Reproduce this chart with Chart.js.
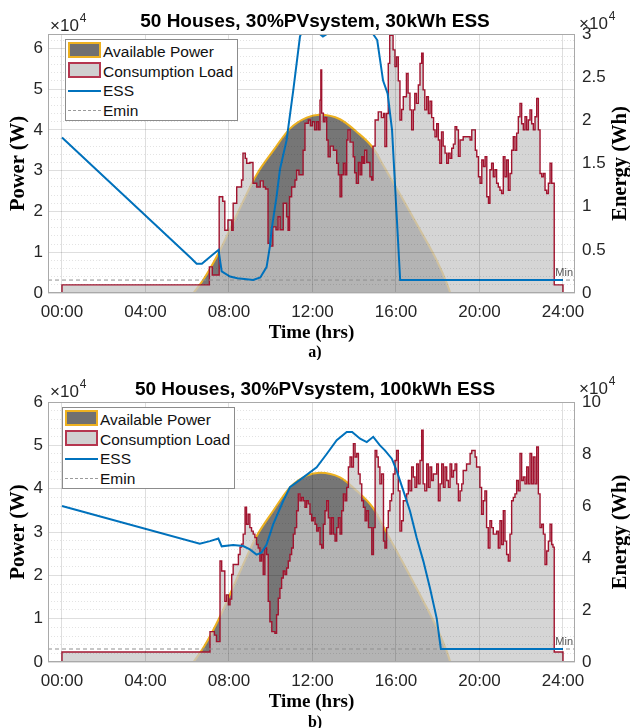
<!DOCTYPE html>
<html>
<head>
<meta charset="utf-8">
<script src="https://cdn.jsdelivr.net/npm/chart.js@4.4.1/dist/chart.umd.min.js"></script>
<style>
html,body{margin:0;padding:0;background:#fff;width:630px;height:728px;overflow:hidden;}
.panel{position:absolute;left:0;width:630px;}
#p1{top:0;height:360px;}
#p2{top:360px;height:376px;}
.legend{position:absolute;background:#fff;border:1px solid #8c8c8c;box-sizing:border-box;
  font-family:"Liberation Sans",Arial,sans-serif;font-size:15.5px;color:#111;}
.row{position:absolute;left:0;width:100%;height:20px;line-height:20px;white-space:nowrap;}
.row span{position:absolute;left:37px;top:0;}
.sw{position:absolute;left:2px;width:33px;box-sizing:border-box;}
</style>
</head>
<body>
<div class="panel" id="p1"><canvas id="c1" width="630" height="360"></canvas></div>
<div class="panel" id="p2"><canvas id="c2" width="630" height="376"></canvas></div>
<script>
// legend / axis texts
var seriesNames = ['Available Power', 'Consumption Load', 'ESS', 'Emin'];
var titles = ['50 Houses, 30%PVsystem, 30kWh ESS', '50 Houses, 30%PVsystem, 100kWh ESS'];
var panelTags = ['a)', 'b)'];

// ticks (hours, x10^4)
var xTicks = [0, 4, 8, 12, 16, 20, 24];
var powerTicks = [0, 1, 2, 3, 4, 5, 6];
var energyTicksA = [0, 0.5, 1, 1.5, 2, 2.5, 3];
var energyTicksB = [0, 2, 4, 6, 8, 10];

// available PV power, same for both cases (x10^4 W)
var pvHours = [6.3, 6.8, 7.57, 8.4, 9.32, 10.12, 10.92, 11.72, 12.36, 13.32, 14.12, 14.91, 15.4, 16.35, 17.15, 17.95, 18.43, 18.6];
var pvPower = [0, 0.35, 1.05, 1.95, 2.9, 3.49, 4.03, 4.3, 4.37, 4.26, 3.95, 3.55, 3.12, 2.28, 1.55, 0.8, 0.25, 0];

// case a) 30 kWh ESS
var loadHoursA = [0,0,7.06,7.20,7.53,7.70,7.80,7.95,8.13,8.20,
  8.37,8.60,8.67,8.78,8.85,9.00,9.15,9.33,9.50,9.64,
  9.75,9.87,9.95,10.10,10.25,10.35,10.45,10.60,10.76,10.83,
  10.90,11.00,11.16,11.24,11.35,11.55,11.64,11.80,11.90,12.00,
  12.10,12.20,12.28,12.36,12.40,12.44,12.52,12.60,12.68,12.75,
  12.85,13.00,13.16,13.24,13.32,13.40,13.48,13.56,13.64,13.70,
  13.80,13.95,14.02,14.10,14.20,14.28,14.36,14.43,14.50,14.60,
  14.75,14.83,14.90,15.00,15.15,15.30,15.40,15.47,15.55,15.63,
  15.70,15.86,15.95,16.03,16.11,16.19,16.27,16.35,16.50,16.58,
  16.67,16.75,16.83,16.90,16.98,17.07,17.15,17.23,17.30,17.38,
  17.47,17.55,17.63,17.71,17.80,17.87,17.95,18.03,18.10,18.18,
  18.26,18.35,18.43,18.51,18.59,18.67,18.75,18.83,18.91,18.99,
  19.07,19.22,19.38,19.55,19.63,19.71,19.80,19.87,19.95,20.03,
  20.11,20.19,20.27,20.35,20.43,20.50,20.58,20.66,20.74,20.82,
  20.90,20.98,21.06,21.14,21.22,21.30,21.38,21.46,21.54,21.62,
  21.70,21.78,21.86,21.94,22.02,22.10,22.18,22.26,22.34,22.42,
  22.50,22.58,22.66,22.74,22.82,22.90,22.98,23.06,23.14,23.22,
  23.30,23.38,23.46,23.52,23.58,24.00];
var loadPowerA = [0,0.20,0.64,0.44,2.36,2.25,1.54,1.79,1.54,2.20,
  2.60,2.77,3.43,3.30,3.18,3.20,2.69,2.60,2.75,2.60,
  2.55,1.22,1.15,1.62,1.55,1.87,1.55,2.20,1.87,1.54,
  2.36,2.60,2.77,3.01,2.90,3.50,4.16,4.24,4.10,4.20,
  4.00,4.20,4.00,4.73,5.47,4.41,4.20,4.30,3.75,3.34,
  3.60,3.50,3.18,2.90,2.36,2.90,3.18,2.90,3.75,4.00,
  3.70,3.34,2.95,2.69,3.20,2.90,3.34,3.18,3.50,3.20,
  2.85,2.77,3.60,4.24,4.44,4.30,4.40,3.59,4.40,5.63,
  6.32,5.96,5.55,5.79,5.20,4.24,4.50,4.81,5.38,4.90,
  4.49,4.00,4.49,4.89,4.65,5.10,5.63,5.88,4.98,4.49,
  4.81,4.40,4.70,4.30,4.00,3.83,4.15,3.75,3.18,3.95,
  3.60,3.43,3.18,3.43,3.30,3.55,3.65,4.08,4.00,3.35,
  3.75,3.83,3.83,3.75,4.00,4.00,3.50,3.34,2.85,2.69,
  3.26,3.10,3.34,2.36,2.20,3.02,3.18,2.85,3.02,2.69,
  2.60,2.52,2.44,3.34,2.85,3.26,2.52,2.93,3.50,3.83,
  3.50,3.92,4.32,4.65,4.15,4.00,4.32,4.00,4.24,4.49,
  4.15,4.00,4.32,4.77,4.00,2.93,2.85,2.93,2.52,2.44,
  2.69,3.18,2.69,2.69,0.20,0];
var essHoursA = [0,6.2,6.45,6.7,7.1,7.5,7.65,8.05,8.4,9.16,
  9.5,9.8,9.96,10.04,10.28,10.44,10.76,11.08,11.24,11.4,
  11.45,12.35,12.5,12.7,14.9,15.1,15.38,15.6,15.81,16.2,24];
var essEnergyA = [1.80,0.40,0.34,0.34,0.42,0.50,0.25,0.19,0.17,0.15,
  0.18,0.30,0.54,0.73,1.12,1.43,1.77,2.35,2.66,2.97,
  3.0,3.0,2.97,3.0,3.0,2.93,2.46,2.31,1.89,0.15,0.15];
var eminA = 0.15;

// case b) 100 kWh ESS
var loadHoursB = [0,0,7.09,7.30,7.40,7.57,7.65,7.80,7.88,7.97,
  8.05,8.13,8.20,8.37,8.45,8.53,8.60,8.68,8.77,8.84,
  8.92,9.00,9.08,9.16,9.24,9.32,9.40,9.48,9.56,9.64,
  9.72,9.80,9.88,9.96,10.05,10.20,10.28,10.36,10.44,10.52,
  10.60,10.68,10.76,10.84,10.92,11.00,11.08,11.16,11.24,11.32,
  11.40,11.48,11.56,11.64,11.72,11.80,11.88,11.96,12.04,12.12,
  12.20,12.28,12.36,12.44,12.52,12.60,12.68,12.76,12.84,12.92,
  13.00,13.08,13.16,13.24,13.32,13.40,13.48,13.56,13.64,13.72,
  13.80,13.88,13.96,14.04,14.12,14.20,14.28,14.36,14.44,14.52,
  14.60,14.68,14.76,14.84,14.92,15.00,15.08,15.15,15.23,15.31,
  15.40,15.47,15.55,15.63,15.71,15.79,15.87,15.95,16.03,16.11,
  16.19,16.27,16.35,16.51,16.59,16.67,16.75,16.83,16.91,16.99,
  17.07,17.15,17.23,17.30,17.38,17.47,17.55,17.63,17.71,17.79,
  17.95,18.03,18.11,18.19,18.27,18.35,18.43,18.51,18.59,18.67,
  18.75,18.83,18.91,18.99,19.07,19.15,19.22,19.38,19.55,19.63,
  19.71,19.79,19.86,19.94,20.02,20.10,20.18,20.26,20.34,20.42,
  20.50,20.58,20.66,20.74,20.82,20.90,20.98,21.06,21.14,21.22,
  21.30,21.38,21.46,21.54,21.62,21.70,21.78,21.86,21.94,22.02,
  22.10,22.18,22.26,22.34,22.42,22.50,22.58,22.66,22.74,22.82,
  22.90,22.98,23.06,23.14,23.22,23.30,23.38,23.46,23.52,23.58,24.00];
var loadPowerB = [0,0.23,0.70,0.62,0.47,2.33,2.10,1.40,1.55,1.32,
  1.45,2.02,2.25,2.25,2.48,2.65,2.72,2.95,3.57,3.18,
  3.41,3.10,3.02,2.95,2.87,2.71,2.63,2.33,2.48,2.02,
  2.63,2.48,1.40,0.93,0.70,0.66,1.09,1.47,1.70,1.94,
  2.10,2.02,2.17,2.33,2.48,2.63,2.95,3.10,3.49,3.88,
  3.72,3.80,3.72,3.57,3.72,3.65,3.41,3.26,3.33,3.18,
  3.02,3.10,2.71,2.63,3.18,3.49,3.72,3.33,2.95,3.33,
  2.95,2.79,3.10,3.33,2.95,3.49,3.88,3.72,4.03,4.50,
  4.73,4.50,5.04,4.73,4.81,4.34,4.11,3.72,3.57,3.26,
  3.49,3.10,3.10,2.48,3.10,4.88,4.73,4.50,4.11,4.34,
  2.79,2.63,3.10,3.49,3.72,3.88,4.34,4.65,4.88,3.95,
  3.02,3.26,3.72,3.88,4.19,3.95,4.50,4.27,4.03,4.57,
  4.11,4.65,5.35,4.11,3.95,4.57,4.03,4.50,4.19,4.34,
  4.57,3.72,4.11,4.57,4.03,4.50,4.19,4.03,4.57,4.27,
  4.42,4.57,4.11,3.72,3.95,4.11,4.42,4.57,4.81,4.88,
  4.88,4.73,4.50,4.50,4.03,3.41,3.72,3.95,3.10,2.63,
  3.26,3.10,2.95,2.95,3.02,2.63,3.26,2.71,3.49,2.79,
  2.48,2.33,2.95,3.72,3.80,3.88,4.19,3.95,4.81,4.19,
  4.27,4.11,4.50,4.11,4.81,4.11,4.73,4.11,4.96,3.88,
  3.10,3.18,2.95,2.25,2.56,2.79,3.18,2.71,2.65,0.23,0];
var essHoursB = [0,6.6,7.09,7.49,7.65,8.2,8.68,9.0,9.32,9.55,
  9.8,10.12,10.6,10.92,11.56,12.2,12.68,13.16,13.64,13.9,
  14.28,14.6,14.91,15.23,15.47,15.8,16.03,16.35,16.67,16.99,
  17.31,17.63,17.95,18.15,24];
var essEnergyB = [6.0,4.55,4.65,4.75,4.45,4.5,4.46,4.33,4.13,4.2,
  4.52,5.3,6.2,6.72,7.1,7.49,8.0,8.53,8.85,8.85,
  8.59,8.46,8.66,8.33,8.14,7.82,7.36,6.59,5.81,4.78,
  3.88,2.84,1.68,0.5,0.5];
var eminB = 0.5;

var X_MIN = -0.67, X_MAX = 24.575;
var SANS = '"Liberation Sans", Arial, sans-serif';
var SERIF = '"Liberation Serif", "Times New Roman", serif';
var INK = '#262626';

function pts(xs, ys) {
  return xs.map(function (x, i) { return {x: x, y: ys[i]}; });
}
function setTicks(list) {
  return function (s) { s.ticks = list.map(function (v) { return {value: v}; }); };
}

// frame, x10^4 exponents, right-hand title, "Min" tag
var decor = {
  id: 'decor',
  afterDraw: function (chart, args, o) {
    var ctx = chart.ctx, a = chart.chartArea;
    ctx.save();
    ctx.strokeStyle = '#a9a9a9';
    ctx.lineWidth = 1;
    ctx.strokeRect(a.left + 0.5, a.top + 0.5, a.right - a.left - 1, a.bottom - a.top - 1);

    ctx.fillStyle = INK;
    ctx.textBaseline = 'middle';
    ctx.textAlign = 'left';
    [[a.left + 2, a.top - o.expL], [a.right + 4, a.top - o.expR]].forEach(function (p) {
      ctx.font = '17px ' + SANS;
      ctx.fillText('\u00d710', p[0], p[1]);
      var w = ctx.measureText('\u00d710').width;
      ctx.font = '12px ' + SANS;
      ctx.fillText('4', p[0] + w + 1, p[1] - 7);
    });

    ctx.save();
    ctx.translate(621, (a.top + a.bottom) / 2);
    ctx.rotate(-Math.PI / 2);
    ctx.textAlign = 'center';
    ctx.fillStyle = '#000';
    ctx.font = 'bold 20.5px ' + SERIF;
    ctx.fillText('Energy (Wh)', 0, 0);
    ctx.restore();

    var yMin = chart.scales.y2.getPixelForValue(o.emin);
    ctx.font = '11px ' + SANS;
    ctx.fillStyle = '#555';
    ctx.textAlign = 'right';
    ctx.textBaseline = 'bottom';
    ctx.fillText('Min', a.right - 2, yMin - 2);
    ctx.restore();
  }
};

function makeChart(id, c) {
  return new Chart(document.getElementById(id), {
    type: 'line',
    data: {
      datasets: [
        {label: seriesNames[2], data: pts(c.essH, c.essE), yAxisID: 'y2', borderColor: '#0072BD',
          borderWidth: 2, pointRadius: 0, tension: 0, order: 0},
        {label: seriesNames[3], data: pts([X_MIN, X_MAX], [c.emin, c.emin]), yAxisID: 'y2',
          borderColor: '#8f8f8f', borderWidth: 1, borderDash: [4, 3], pointRadius: 0, order: 1},
        {label: seriesNames[1], data: pts(c.loadH, c.loadP), yAxisID: 'y', stepped: true,
          fill: 'origin', backgroundColor: 'rgba(200,200,200,0.76)', borderColor: '#A2142F',
          borderWidth: 1.4, pointRadius: 0, order: 2},
        {label: seriesNames[0], data: pts(pvHours, pvPower), yAxisID: 'y', fill: 'origin',
          backgroundColor: 'rgb(118,118,118)', borderColor: '#EDB120', borderWidth: 2,
          cubicInterpolationMode: 'monotone', pointRadius: 0, order: 3}
      ]
    },
    options: {
      responsive: false,
      animation: false,
      events: [],
      layout: {padding: 0},
      scales: {
        x: {
          type: 'linear', min: X_MIN, max: X_MAX,
          afterBuildTicks: setTicks(xTicks),
          afterFit: function (s) { s.height = c.xH; },
          ticks: {autoSkip: false, maxRotation: 0, padding: 9, color: INK,
            font: {family: SANS, size: 17},
            callback: function (v) { return (v < 10 ? '0' : '') + v + ':00'; }},
          grid: {color: 'rgba(0,0,0,0.13)', drawTicks: false, z: 1},
          border: {display: false},
          title: {display: true, text: 'Time (hrs)', color: '#000',
            font: {family: SERIF, size: 19, weight: 'bold', lineHeight: 1.1},
            padding: {top: 0, bottom: c.xTitlePad}}
        },
        y: {
          position: 'left', min: 0, max: c.leftMax,
          afterBuildTicks: setTicks(powerTicks),
          afterFit: function (s) { s.width = 48; },
          ticks: {padding: 5, color: INK, font: {family: SANS, size: 17}},
          grid: {color: 'rgba(0,0,0,0.13)', drawTicks: false, z: 1},
          border: {display: false},
          title: {display: true, text: 'Power (W)', color: '#000',
            font: {family: SERIF, size: 20.5, weight: 'bold', lineHeight: 1.1},
            padding: {top: 7, bottom: 0}}
        },
        yMinor: {
          position: 'left', min: 0, max: c.leftMax,
          afterBuildTicks: function (s) {
            var t = [];
            for (var k = 1; k * 0.2 < c.leftMax; k++) if (k % 5) t.push({value: k * 0.2});
            s.ticks = t;
          },
          afterFit: function (s) { s.width = 0; },
          ticks: {display: false},
          grid: {color: 'rgba(0,0,0,0.11)', drawTicks: false, z: 1},
          border: {display: false, dash: [1, 2]}
        },
        y2: {
          position: 'right', min: 0, max: c.rightMax,
          afterBuildTicks: setTicks(c.rightTicks),
          afterFit: function (s) { s.width = 55; },
          ticks: {padding: 7, color: INK, font: {family: SANS, size: 17},
            callback: function (v) { return String(v); }},
          grid: {drawOnChartArea: false, drawTicks: false},
          border: {display: false}
        }
      },
      plugins: {
        legend: {display: false},
        tooltip: {enabled: false},
        title: {display: true, text: c.title, color: '#000',
          font: {family: SANS, size: 19, weight: 'bold', lineHeight: 1.2},
          padding: {top: c.titleTop, bottom: c.titleBottom}},
        subtitle: {display: true, position: 'bottom', text: c.tag, color: '#000',
          font: {family: SERIF, size: 16, weight: 'bold', lineHeight: 0.875},
          padding: {top: 0, bottom: c.tagPad}},
        decor: {expL: c.expL, expR: c.expR, emin: c.emin}
      }
    },
    plugins: [decor]
  });
}

function makeLegend(panelId, left, top) {
  var swatches = [
    'top:0;height:16px;background:#707070;border:2px solid #EDB120;',
    'top:0;height:16px;background:#d0d0d0;border:2px solid #B5364F;',
    'top:9px;height:0;border-top:2px solid #0072BD;',
    'top:9px;height:0;border-top:1px dashed #9a9a9a;'
  ];
  var box = document.createElement('div');
  box.className = 'legend';
  box.style.cssText = 'left:' + left + 'px;top:' + top + 'px;width:173px;height:82px;';
  seriesNames.forEach(function (name, i) {
    var r = document.createElement('div');
    r.className = 'row';
    r.style.top = (2 + i * 19.7) + 'px';
    r.innerHTML = '<div class="sw" style="' + swatches[i] + '"></div><span>' + name + '</span>';
    box.appendChild(r);
  });
  document.getElementById(panelId).appendChild(box);
}

makeChart('c1', {title: titles[0], tag: panelTags[0], loadH: loadHoursA, loadP: loadPowerA,
  essH: essHoursA, essE: essEnergyA, emin: eminA, leftMax: 6.35, rightMax: 3,
  rightTicks: energyTicksA, titleTop: 10.6, titleBottom: 0.6, xH: 53, xTitlePad: 2.5,
  tagPad: 0, expL: 8, expR: 10});
makeChart('c2', {title: titles[1], tag: panelTags[1], loadH: loadHoursB, loadP: loadPowerB,
  essH: essHoursB, essE: essEnergyB, emin: eminB, leftMax: 6, rightMax: 10,
  rightTicks: energyTicksB, titleTop: 18.6, titleBottom: 0.6, xH: 54, xTitlePad: 3.5,
  tagPad: 6, expL: 10, expR: 13});
makeLegend('p1', 65, 39);
makeLegend('p2', 62, 47);
</script>
</body>
</html>
